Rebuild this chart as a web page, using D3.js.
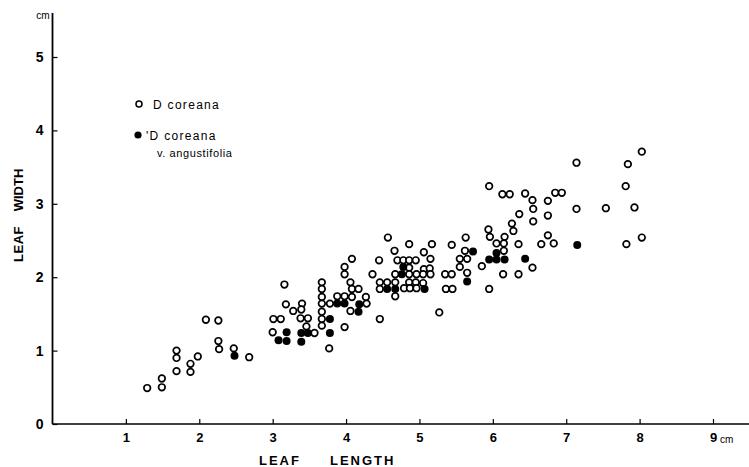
<!DOCTYPE html>
<html>
<head>
<meta charset="utf-8">
<script src="https://cdn.jsdelivr.net/npm/d3@7"></script>
<style>
  html, body { margin: 0; padding: 0; background: #fff; }
  svg { display: block; font-family: "Liberation Sans", Arial, sans-serif; }
</style>
</head>
<body>
<svg id="chart" width="749" height="467"></svg>
<script>
// ---- data (leaf length, leaf width in cm) ----
const xTicks = [1, 2, 3, 4, 5, 6, 7, 8, 9];
const yTicks = [0, 1, 2, 3, 4, 5];

// D. coreana (open circles)
const coreana = [
  [1.29,0.49],[1.49,0.50],[1.49,0.62],[1.69,0.72],[1.88,0.71],[1.88,0.82],[1.69,0.90],[1.69,1.00],
  [1.98,0.92],[2.09,1.42],[2.26,1.41],[2.26,1.13],[2.27,1.02],[2.47,1.03],[2.68,0.91],
  [3.16,1.90],[3.18,1.63],[3.28,1.54],[3.40,1.64],[3.39,1.56],[3.01,1.43],[3.11,1.43],[3.38,1.44],
  [3.48,1.44],[3.00,1.25],[3.46,1.33],[3.57,1.24],
  [3.67,1.93],[3.67,1.84],[3.67,1.73],[3.67,1.64],[3.67,1.53],[3.67,1.43],[3.67,1.34],
  [3.78,1.64],[3.98,1.32],[3.77,1.03],[3.88,1.74],[3.98,1.74],[4.08,1.73],[3.98,2.04],[3.98,2.14],
  [4.08,2.25],[4.06,1.93],[4.08,1.84],[4.17,1.84],[4.27,1.73],[4.28,1.64],[4.06,1.54],[4.46,1.43],
  [4.36,2.04],[4.45,2.23],[4.57,2.54],[4.66,2.36],[4.86,2.45],[5.17,2.45],[5.44,2.44],[5.63,2.54],
  [5.06,2.34],[5.62,2.36],[4.70,2.23],[4.78,2.23],[4.86,2.23],[4.95,2.23],[5.15,2.25],[5.55,2.25],
  [5.65,2.25],[4.86,2.13],[5.06,2.11],[5.14,2.12],[5.55,2.14],[5.85,2.15],
  [4.67,2.04],[4.86,2.04],[4.96,2.04],[5.05,2.04],[5.15,2.04],[5.35,2.04],[5.44,2.04],[5.65,2.06],
  [6.14,2.04],[6.35,2.04],
  [4.46,1.93],[4.56,1.93],[4.67,1.93],[4.86,1.93],[4.95,1.93],[5.05,1.92],
  [4.46,1.84],[4.79,1.85],[4.87,1.85],[4.96,1.85],[5.36,1.84],[5.45,1.84],[5.95,1.84],
  [4.67,1.74],[5.27,1.52],
  [5.94,2.65],[6.26,2.73],[6.55,2.76],[6.28,2.63],[5.96,2.55],[6.16,2.55],[6.05,2.46],[6.15,2.46],
  [6.35,2.45],[6.15,2.36],[6.54,2.13],
  [5.95,3.24],[6.13,3.13],[6.23,3.13],[6.44,3.14],[6.54,3.05],[6.75,3.04],[6.85,3.15],[6.94,3.15],
  [6.55,2.93],[6.36,2.86],[6.75,2.84],[7.14,2.93],[7.54,2.94],[7.93,2.95],
  [7.14,3.56],[7.84,3.54],[7.81,3.24],[8.03,3.71],
  [6.66,2.45],[6.75,2.57],[6.83,2.46],[7.82,2.45],[8.03,2.54]
];

// D. coreana v. angustifolia (filled circles)
const angustifolia = [
  [2.48,0.93],[3.19,1.25],[3.08,1.14],[3.19,1.13],[3.39,1.24],[3.48,1.24],[3.39,1.12],
  [3.88,1.64],[3.98,1.64],[3.78,1.43],[3.78,1.24],[4.18,1.63],[4.17,1.53],
  [4.78,2.14],[4.76,2.04],[4.56,1.84],[4.67,1.84],[5.07,1.84],[5.65,1.94],[5.73,2.35],
  [6.05,2.33],[5.95,2.24],[6.05,2.24],[6.16,2.24],[6.44,2.25],[7.15,2.44]
];

const legendLabels = ["D coreana", "'D coreana", "v. angustifolia"];

// ---- drawing ----
const svg = d3.select("#chart");
const x = d3.scaleLinear().domain([0, 9]).range([52.5, 713]);
const y = d3.scaleLinear().domain([0, 5]).range([424, 57]);

// axis lines
svg.append("line")
  .attr("x1", x(0)).attr("x2", x(9.5))
  .attr("y1", y(0)).attr("y2", y(0))
  .attr("stroke", "#000").attr("stroke-width", 1.6);
svg.append("line")
  .attr("x1", x(0)).attr("x2", x(0))
  .attr("y1", y(0)).attr("y2", y(5.6))
  .attr("stroke", "#000").attr("stroke-width", 1.8);

// x axis
const gx = svg.append("g").attr("transform", `translate(0,${y(0)})`)
  .call(d3.axisBottom(x).tickValues(xTicks).tickSize(-5).tickPadding(9)
    .tickFormat(d3.format("d")));
gx.select(".domain").remove();
gx.selectAll(".tick line").attr("stroke", "#000").attr("stroke-width", 1.2);
gx.selectAll(".tick text").attr("font-size", 13).attr("font-weight", "bold")
  .attr("font-family", "Liberation Sans, Arial, sans-serif").attr("fill", "#000");
svg.append("text").attr("x", x(9) + 7).attr("y", y(0) + 19)
  .attr("font-size", 10).attr("fill", "#000").text("cm");

// y axis
const gy = svg.append("g").attr("transform", `translate(${x(0)},0)`)
  .call(d3.axisLeft(y).tickValues(yTicks).tickSize(-5).tickPadding(9)
    .tickFormat(d3.format("d")));
gy.select(".domain").remove();
gy.selectAll(".tick line").attr("stroke", "#000").attr("stroke-width", 1.2);
gy.selectAll(".tick text").attr("font-size", 14).attr("font-weight", "bold")
  .attr("font-family", "Liberation Sans, Arial, sans-serif").attr("fill", "#000");
svg.append("text").attr("x", x(0) - 3).attr("y", y(5.6) + 6)
  .attr("text-anchor", "end").attr("font-size", 10).attr("fill", "#000").text("cm");

// axis titles
svg.append("text").attr("transform", `translate(23,244) rotate(-90)`)
  .attr("text-anchor", "middle").attr("font-size", 13).attr("font-weight", "bold")
  .attr("letter-spacing", 0.5).attr("fill", "#000").text("LEAF");
svg.append("text").attr("transform", `translate(23,190) rotate(-90)`)
  .attr("text-anchor", "middle").attr("font-size", 13).attr("font-weight", "bold")
  .attr("fill", "#000").text("WIDTH");
svg.append("text").attr("x", 259).attr("y", 465).attr("font-weight", "bold")
  .attr("font-size", 13).attr("letter-spacing", 2).attr("fill", "#000").text("LEAF");
svg.append("text").attr("x", 330).attr("y", 465).attr("font-weight", "bold")
  .attr("font-size", 13).attr("letter-spacing", 2).attr("fill", "#000").text("LENGTH");

// points
svg.append("g").selectAll("circle").data(coreana).join("circle")
  .attr("cx", d => x(d[0])).attr("cy", d => y(d[1])).attr("r", 3.3)
  .attr("fill", "#fff").attr("stroke", "#000").attr("stroke-width", 1.7);
svg.append("g").selectAll("circle").data(angustifolia).join("circle")
  .attr("cx", d => x(d[0])).attr("cy", d => y(d[1])).attr("r", 4)
  .attr("fill", "#000");

// legend
const lg = svg.append("g");
lg.append("circle").attr("cx", 139).attr("cy", 104).attr("r", 3)
  .attr("fill", "#fff").attr("stroke", "#000").attr("stroke-width", 1.5);
lg.append("text").attr("x", 153).attr("y", 109).attr("font-size", 12)
  .attr("letter-spacing", 1.3).attr("fill", "#000").text(legendLabels[0]);
lg.append("circle").attr("cx", 138).attr("cy", 135).attr("r", 3.6).attr("fill", "#000");
lg.append("text").attr("x", 146).attr("y", 140).attr("font-size", 12)
  .attr("letter-spacing", 1.3).attr("fill", "#000").text(legendLabels[1]);
lg.append("text").attr("x", 157).attr("y", 157).attr("font-size", 11)
  .attr("letter-spacing", 0.6).attr("fill", "#000").text(legendLabels[2]);
</script>
</body>
</html>
